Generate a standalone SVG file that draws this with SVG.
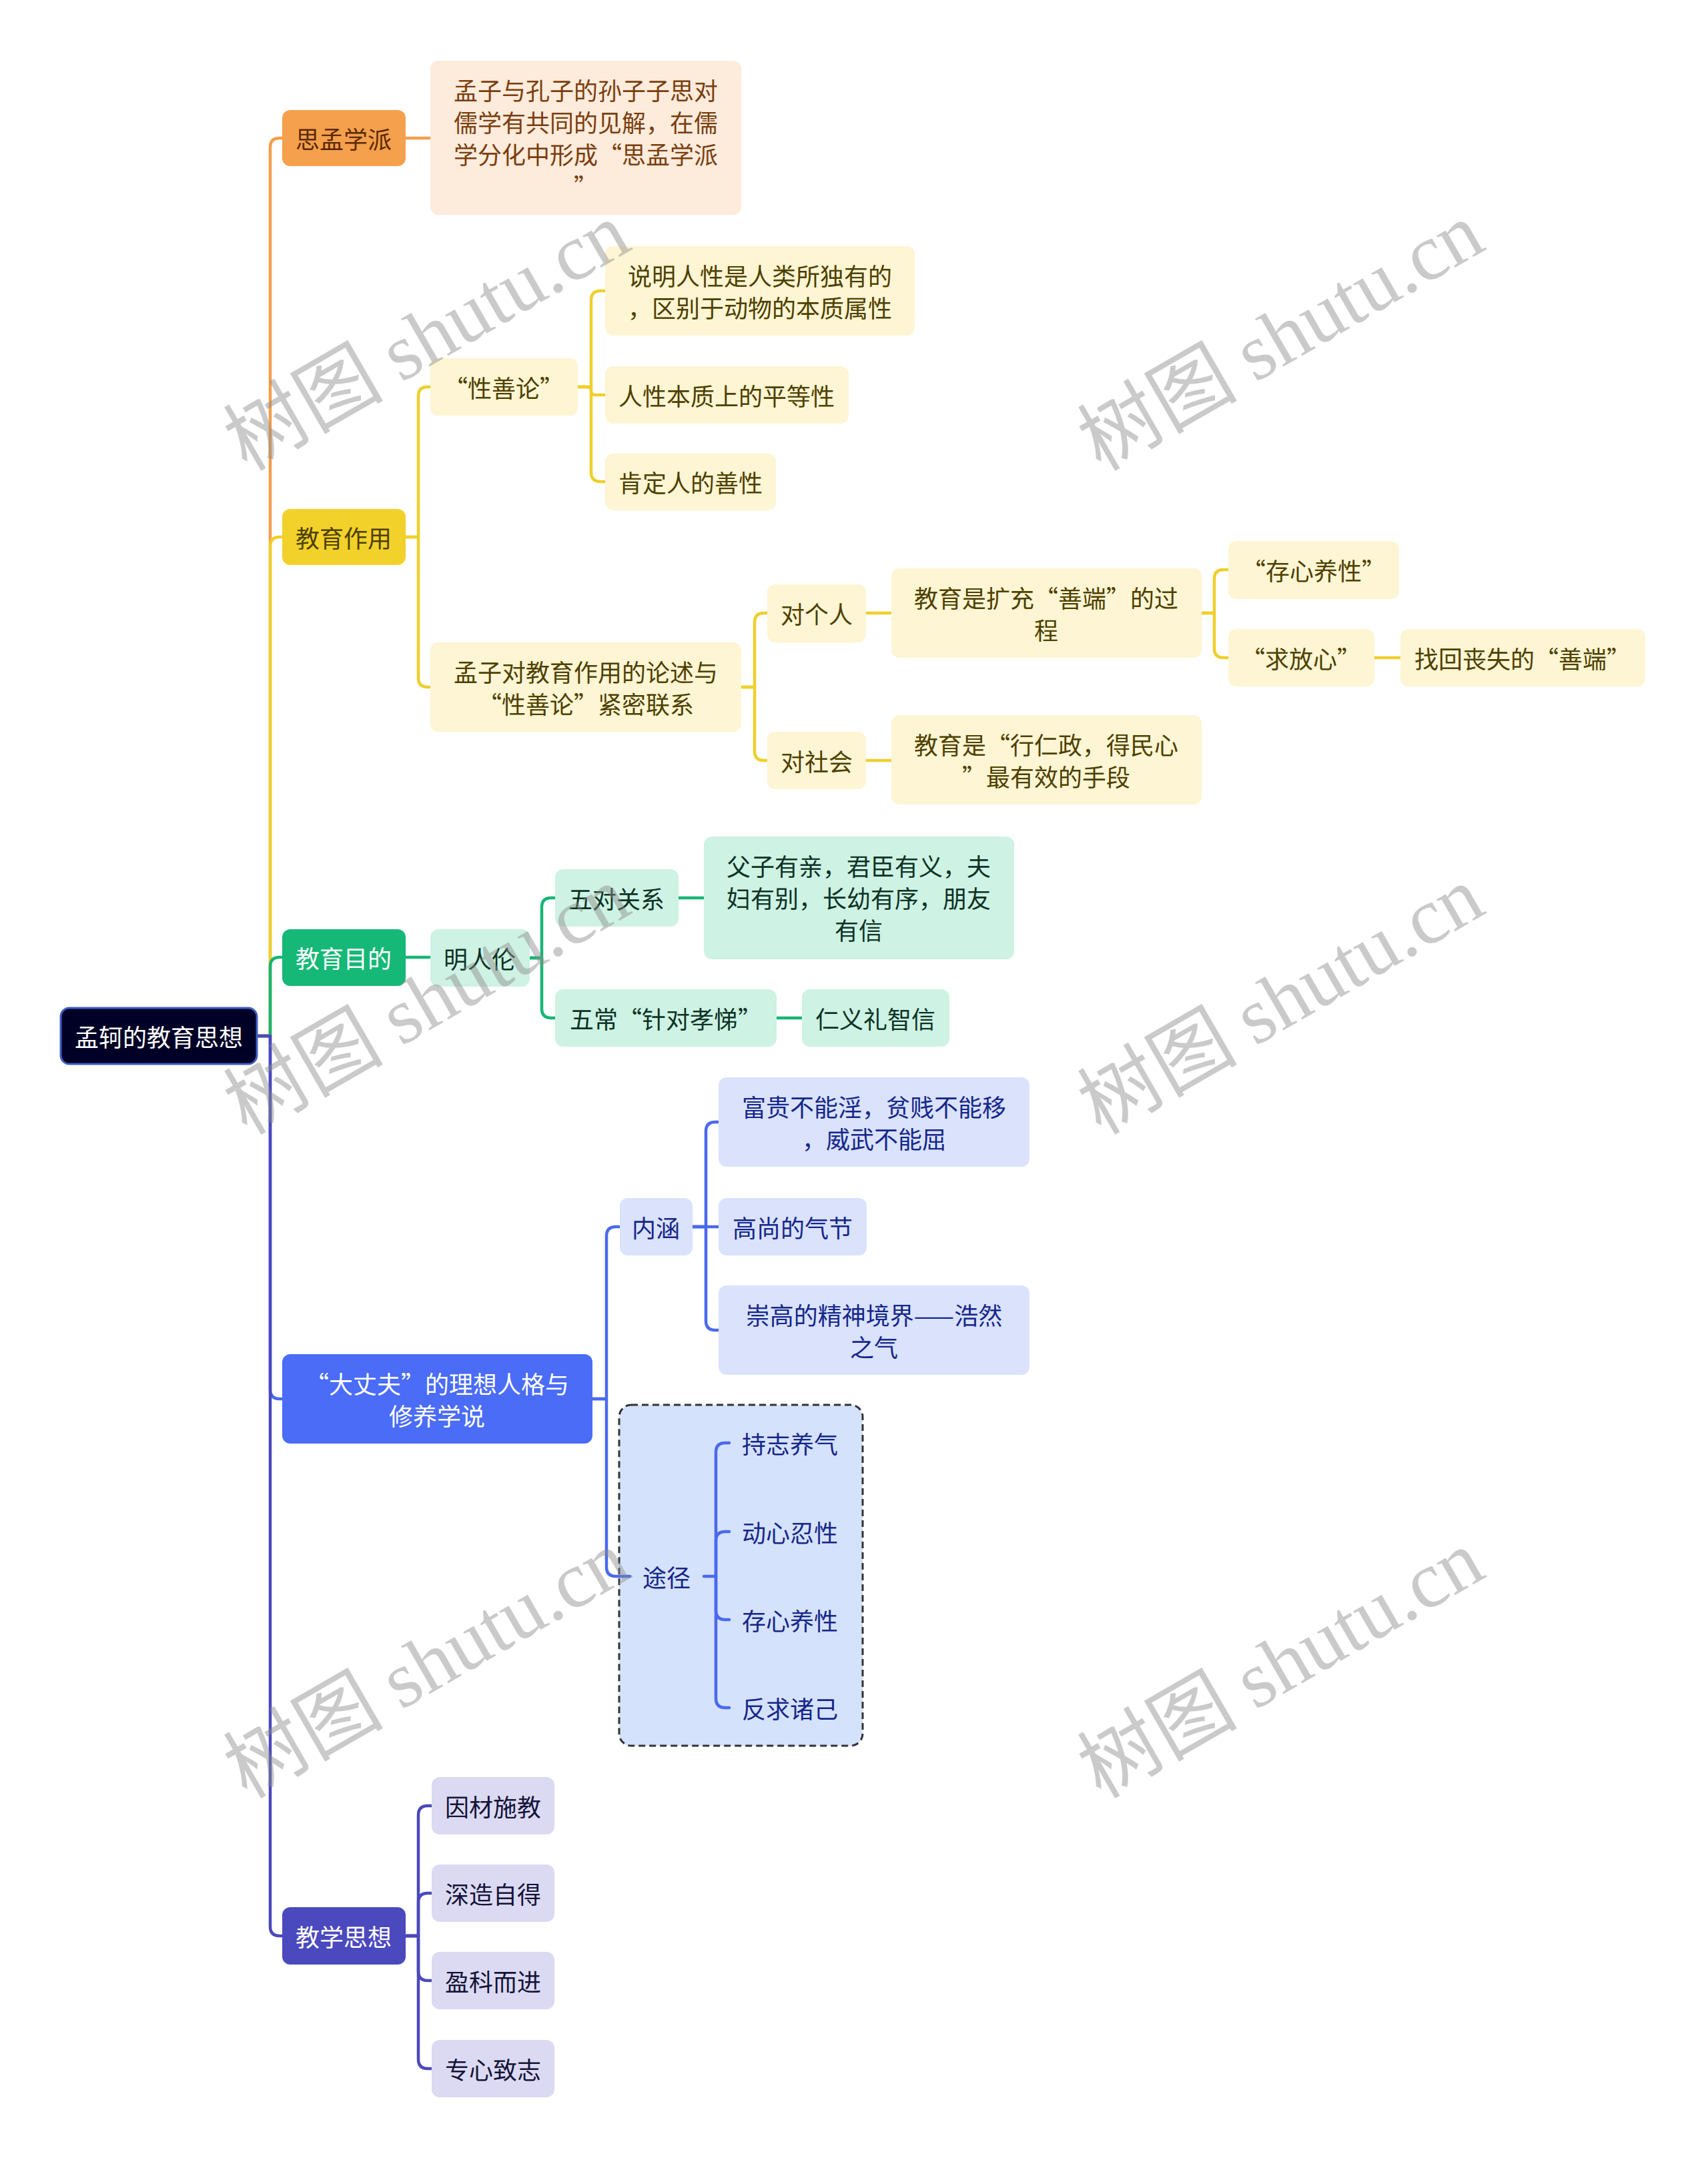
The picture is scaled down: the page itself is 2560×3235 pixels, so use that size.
<svg xmlns="http://www.w3.org/2000/svg" width="2560" height="3235" viewBox="0 0 2560 3235">
<style>
text{font-family:"Noto Sans CJK SC","Noto Sans",sans-serif;font-size:36px;text-anchor:middle;dominant-baseline:central}
.c{fill:none;stroke-width:4.5;stroke-linecap:round;stroke-linejoin:round}
.or{stroke:#F39E4B}.ye{stroke:#EFCF2C}.gr{stroke:#17B574}.bl{stroke:#4A69EE}.in{stroke:#4B49BC}
.n-or{fill:#F5A04C}.n-ord{fill:#FDEBDC}
.n-ye{fill:#F2D12A}.n-yel{fill:#FDF5D3}
.n-gr{fill:#15B876}.n-grl{fill:#CEF2E3}
.n-bl{fill:#4A6CF7}.n-bll{fill:#DAE2FC}
.n-in{fill:#4B49BE}.n-inl{fill:#DCDAF2}
.t-w{fill:#ffffff}.t-or{fill:#5a2a00}.t-ord{fill:#7a3e0e}.t-ye{fill:#4e4000}.t-gr{fill:#0d3326}.t-bl{fill:#15278a}.t-in{fill:#14143a}
.wm{fill:#8c8c8c;opacity:.45;font-size:120px;dominant-baseline:auto}
</style>

<g id="connectors">
<path class="c or" d="M385,1553 H405 V221 Q405,207 419,207 H423"/>
<path class="c ye" d="M385,1553 H405 V819 Q405,805 419,805 H423"/>
<path class="c gr" d="M385,1553 H405 V1449 Q405,1435 419,1435 H423"/>
<path class="c bl" d="M385,1553 H405 V2083 Q405,2097 419,2097 H423"/>
<path class="c in" d="M385,1553 H405 V2888 Q405,2902 419,2902 H423"/>

<path class="c or" d="M608,207 H645"/>

<path class="c ye" d="M608,805 H627 V594 Q627,580 641,580 H645"/>
<path class="c ye" d="M608,805 H627 V1016 Q627,1030 641,1030 H645"/>
<path class="c ye" d="M866,580 H886 V450 Q886,436 900,436 H907"/>
<path class="c ye" d="M866,580 H880 Q886,580 886,586 Q886,592 892,592 H907"/>
<path class="c ye" d="M866,580 H886 V708 Q886,722 900,722 H907"/>
<path class="c ye" d="M1111,1030 H1131 V933 Q1131,919 1145,919 H1150"/>
<path class="c ye" d="M1111,1030 H1131 V1126 Q1131,1140 1145,1140 H1150"/>
<path class="c ye" d="M1298,919 H1336"/>
<path class="c ye" d="M1298,1140 H1336"/>
<path class="c ye" d="M1801,919 H1820 V868 Q1820,854 1834,854 H1841"/>
<path class="c ye" d="M1801,919 H1820 V972 Q1820,986 1834,986 H1841"/>
<path class="c ye" d="M2060,986 H2099"/>

<path class="c gr" d="M608,1435 H645"/>
<path class="c gr" d="M794,1436 H812 V1360 Q812,1346 826,1346 H832"/>
<path class="c gr" d="M794,1436 H812 V1512 Q812,1526 826,1526 H832"/>
<path class="c gr" d="M1017,1346 H1055"/>
<path class="c gr" d="M1164,1526 H1202"/>

<path class="c bl" d="M888,2097 H909 V1853 Q909,1839 923,1839 H929"/>
<path class="c bl" d="M888,2097 H909 V2349 Q909,2363 923,2363 H944"/>
<path class="c bl" d="M1038,1839 H1058 V1696 Q1058,1682 1072,1682 H1077"/>
<path class="c bl" d="M1038,1839 H1077"/>
<path class="c bl" d="M1038,1839 H1058 V1980 Q1058,1994 1072,1994 H1077"/>

<path class="c in" d="M608,2902 H627 V2721 Q627,2707 641,2707 H647"/>
<path class="c in" d="M608,2902 H627 V2852 Q627,2838 641,2838 H647"/>
<path class="c in" d="M608,2902 H627 V2955 Q627,2969 641,2969 H647"/>
<path class="c in" d="M608,2902 H627 V3087 Q627,3101 641,3101 H647"/>
</g>

<g id="root">
<rect x="91" y="1511" width="294" height="84" rx="13" fill="#000026" stroke="#3F5FC6" stroke-width="3"/>
<text x="238" y="1553" class="t-w">孟轲的教育思想</text>
</g>

<g id="n-simeng">
<rect x="423" y="165" width="185" height="84" rx="12" class="n-or"/>
<text x="515" y="207" class="t-or">思孟学派</text>
</g>
<g id="n-simeng-desc">
<rect x="645" y="91" width="466" height="231" rx="12" class="n-ord"/>
<text x="878" y="134" class="t-ord">孟子与孔子的孙子子思对</text>
<text x="878" y="182" class="t-ord">儒学有共同的见解，在儒</text>
<text x="878" y="230" class="t-ord">学分化中形成“思孟学派</text>
<text x="878" y="278" class="t-ord">”</text>
</g>

<g id="n-zuoyong">
<rect x="423" y="763" width="185" height="84" rx="12" class="n-ye"/>
<text x="515" y="805" class="t-ye">教育作用</text>
</g>
<g id="n-xingshan">
<rect x="645" y="537" width="221" height="86" rx="12" class="n-yel"/>
<text x="755" y="580" class="t-ye">“性善论”</text>
</g>
<g id="n-shuoming">
<rect x="907" y="369" width="464" height="134" rx="12" class="n-yel"/>
<text x="1139" y="412" class="t-ye">说明人性是人类所独有的</text>
<text x="1139" y="460" class="t-ye">，区别于动物的本质属性</text>
</g>
<g id="n-pingdeng">
<rect x="907" y="549" width="365" height="86" rx="12" class="n-yel"/>
<text x="1089" y="592" class="t-ye">人性本质上的平等性</text>
</g>
<g id="n-kending">
<rect x="907" y="680" width="256" height="85" rx="12" class="n-yel"/>
<text x="1035" y="722" class="t-ye">肯定人的善性</text>
</g>
<g id="n-lunshu">
<rect x="645" y="963" width="466" height="134" rx="12" class="n-yel"/>
<text x="878" y="1006" class="t-ye">孟子对教育作用的论述与</text>
<text x="878" y="1054" class="t-ye">“性善论”紧密联系</text>
</g>
<g id="n-geren">
<rect x="1150" y="876" width="148" height="87" rx="12" class="n-yel"/>
<text x="1224" y="919" class="t-ye">对个人</text>
</g>
<g id="n-shehui">
<rect x="1150" y="1097" width="148" height="86" rx="12" class="n-yel"/>
<text x="1224" y="1140" class="t-ye">对社会</text>
</g>
<g id="n-kuochong">
<rect x="1336" y="852" width="465" height="134" rx="12" class="n-yel"/>
<text x="1568" y="895" class="t-ye">教育是扩充“善端”的过</text>
<text x="1568" y="943" class="t-ye">程</text>
</g>
<g id="n-renzheng">
<rect x="1336" y="1072" width="465" height="134" rx="12" class="n-yel"/>
<text x="1568" y="1115" class="t-ye">教育是“行仁政，得民心</text>
<text x="1568" y="1163" class="t-ye">”最有效的手段</text>
</g>
<g id="n-cunxin">
<rect x="1841" y="811" width="256" height="87" rx="12" class="n-yel"/>
<text x="1969" y="854" class="t-ye">“存心养性”</text>
</g>
<g id="n-qiufang">
<rect x="1841" y="943" width="219" height="86" rx="12" class="n-yel"/>
<text x="1950" y="986" class="t-ye">“求放心”</text>
</g>
<g id="n-zhaohui">
<rect x="2099" y="943" width="367" height="86" rx="12" class="n-yel"/>
<text x="2282" y="986" class="t-ye">找回丧失的“善端”</text>
</g>

<g id="n-mudi">
<rect x="423" y="1393" width="185" height="85" rx="12" class="n-gr"/>
<text x="515" y="1435" class="t-w">教育目的</text>
</g>
<g id="n-renlun">
<rect x="645" y="1393" width="149" height="86" rx="12" class="n-grl"/>
<text x="719" y="1436" class="t-gr">明人伦</text>
</g>
<g id="n-wudui">
<rect x="832" y="1303" width="185" height="86" rx="12" class="n-grl"/>
<text x="924" y="1346" class="t-gr">五对关系</text>
</g>
<g id="n-fuzi">
<rect x="1055" y="1254" width="465" height="184" rx="12" class="n-grl"/>
<text x="1287" y="1297" class="t-gr">父子有亲，君臣有义，夫</text>
<text x="1287" y="1345" class="t-gr">妇有别，长幼有序，朋友</text>
<text x="1287" y="1393" class="t-gr">有信</text>
</g>
<g id="n-wuchang">
<rect x="832" y="1483" width="332" height="86" rx="12" class="n-grl"/>
<text x="998" y="1526" class="t-gr">五常“针对孝悌”</text>
</g>
<g id="n-renyi">
<rect x="1202" y="1483" width="221" height="86" rx="12" class="n-grl"/>
<text x="1312" y="1526" class="t-gr">仁义礼智信</text>
</g>

<g id="n-dazhangfu">
<rect x="423" y="2030" width="465" height="134" rx="12" class="n-bl"/>
<text x="655" y="2073" class="t-w">“大丈夫”的理想人格与</text>
<text x="655" y="2121" class="t-w">修养学说</text>
</g>
<g id="n-neihan">
<rect x="929" y="1796" width="109" height="86" rx="12" class="n-bll"/>
<text x="983" y="1839" class="t-bl">内涵</text>
</g>
<g id="n-fugui">
<rect x="1077" y="1615" width="466" height="134" rx="12" class="n-bll"/>
<text x="1310" y="1658" class="t-bl">富贵不能淫，贫贱不能移</text>
<text x="1310" y="1706" class="t-bl">，威武不能屈</text>
</g>
<g id="n-gaoshang">
<rect x="1077" y="1796" width="222" height="86" rx="12" class="n-bll"/>
<text x="1188" y="1839" class="t-bl">高尚的气节</text>
</g>
<g id="n-chonggao">
<rect x="1077" y="1927" width="466" height="134" rx="12" class="n-bll"/>
<text x="1310" y="1970" class="t-bl">崇高的精神境界——浩然</text>
<text x="1310" y="2018" class="t-bl">之气</text>
</g>
<g id="n-tujing">
<rect x="928" y="2106" width="365" height="511" rx="18" fill="#D5E2FB" stroke="#333333" stroke-width="3" stroke-dasharray="10 6"/>
<path class="c bl" d="M928,2363 H944"/>
<text x="999" y="2363" class="t-bl">途径</text>
<path class="c bl" d="M1055,2363 H1073"/>
<path class="c bl" d="M1073,2363 V2177 Q1073,2163 1087,2163 H1093"/>
<path class="c bl" d="M1073,2363 V2310 Q1073,2296 1087,2296 H1093"/>
<path class="c bl" d="M1073,2363 V2414 Q1073,2428 1087,2428 H1093"/>
<path class="c bl" d="M1073,2363 V2546 Q1073,2560 1087,2560 H1093"/>
</g>
<g id="n-chizhi"><text x="1184" y="2163" class="t-bl">持志养气</text></g>
<g id="n-dongxin"><text x="1184" y="2296" class="t-bl">动心忍性</text></g>
<g id="n-cunxin2"><text x="1184" y="2428" class="t-bl">存心养性</text></g>
<g id="n-fanqiu"><text x="1184" y="2560" class="t-bl">反求诸己</text></g>

<g id="n-jiaoxue">
<rect x="423" y="2859" width="185" height="86" rx="12" class="n-in"/>
<text x="515" y="2902" class="t-w">教学思想</text>
</g>
<g id="n-yincai">
<rect x="647" y="2664" width="184" height="86" rx="12" class="n-inl"/>
<text x="739" y="2707" class="t-in">因材施教</text>
</g>
<g id="n-shenzao">
<rect x="647" y="2795" width="184" height="86" rx="12" class="n-inl"/>
<text x="739" y="2838" class="t-in">深造自得</text>
</g>
<g id="n-yingke">
<rect x="647" y="2926" width="184" height="86" rx="12" class="n-inl"/>
<text x="739" y="2969" class="t-in">盈科而进</text>
</g>
<g id="n-zhuanxin">
<rect x="647" y="3058" width="184" height="86" rx="12" class="n-inl"/>
<text x="739" y="3101" class="t-in">专心致志</text>
</g>

<g id="watermark">
<text class="wm" transform="translate(660,540) rotate(-30)">树图 <tspan font-family="Liberation Serif">shutu.cn</tspan></text>
<text class="wm" transform="translate(1940,540) rotate(-30)">树图 <tspan font-family="Liberation Serif">shutu.cn</tspan></text>
<text class="wm" transform="translate(660,1535) rotate(-30)">树图 <tspan font-family="Liberation Serif">shutu.cn</tspan></text>
<text class="wm" transform="translate(1940,1535) rotate(-30)">树图 <tspan font-family="Liberation Serif">shutu.cn</tspan></text>
<text class="wm" transform="translate(660,2530) rotate(-30)">树图 <tspan font-family="Liberation Serif">shutu.cn</tspan></text>
<text class="wm" transform="translate(1940,2530) rotate(-30)">树图 <tspan font-family="Liberation Serif">shutu.cn</tspan></text>
</g>
</svg>
